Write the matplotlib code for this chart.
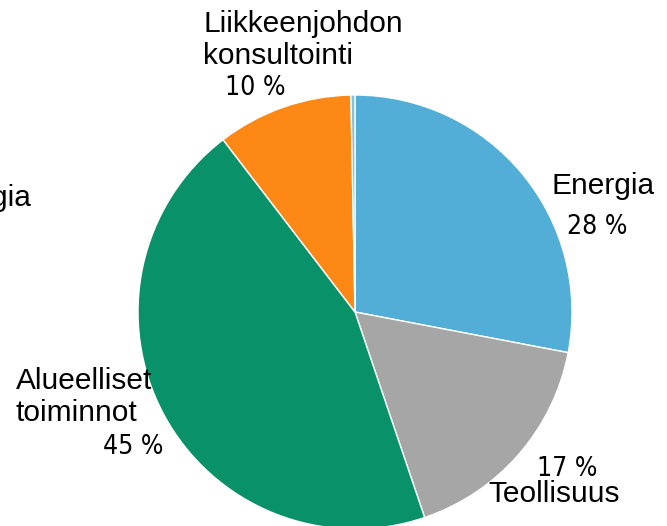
import matplotlib
matplotlib.use("Agg")
import matplotlib.pyplot as plt

labels = ["Energia", "Teollisuus", "Alueelliset\ntoiminnot", "Liikkeenjohdon\nkonsultointi", "Teknologia"]
shares = [28.0, 16.8, 44.8, 10.1, 0.3]
pct_text = ["28 %", "17 %", "45 %", "10 %", ""]
colors = ["#52AED6", "#A6A6A6", "#09916A", "#FD8815", "#7FC3E0"]

W, H = 667, 526
fig = plt.figure(figsize=(W / 100, H / 100), dpi=100)
ax = fig.add_axes([0, 0, 1, 1])

cx, cy, r = 355, H - 312, 217
ax.pie(shares, colors=colors, startangle=90, counterclock=False,
       center=(cx, cy), radius=r, frame=True,
       wedgeprops=dict(edgecolor="white", linewidth=1.0))
ax.set_xlim(0, W)
ax.set_ylim(0, H)
ax.set_aspect("equal")
ax.axis("off")

name_font = dict(family=["Liberation Sans", "DejaVu Sans"], size=21.5, color="black")
pct_font = dict(family=["DejaVu Sans"], stretch="condensed", size=19, color="black")

# name labels (x, y in pixels from top-left) and alignment
name_pos = [(552, 186, "left"), (488, 494, "left"), (16, 397, "left"), (203, 40, "left"), (31, 198, "right")]
pct_pos = [(597, 227), (567, 469), (133, 447), (255, 88), None]

for lab, (x, y, ha), p, pp in zip(labels, name_pos, pct_text, pct_pos):
    ax.text(x, H - y, lab, ha=ha, va="center", linespacing=1.2, **name_font)
    if pp is not None:
        ax.text(pp[0], H - pp[1], p, ha="center", va="center", **pct_font)

fig.savefig("out.png", dpi=100)
